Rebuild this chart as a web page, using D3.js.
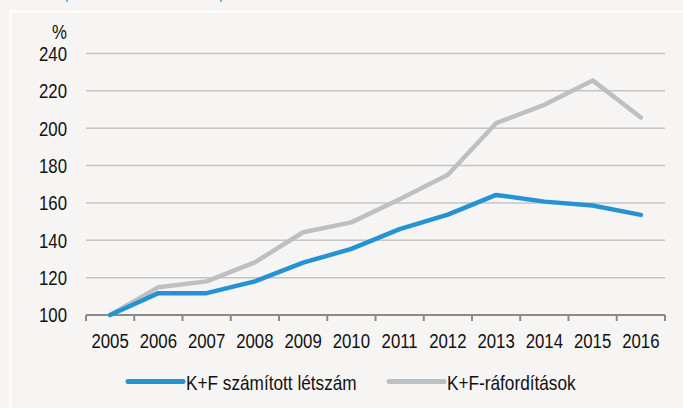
<!DOCTYPE html>
<html>
<head>
<meta charset="utf-8">
<script src="https://cdn.jsdelivr.net/npm/d3@7"></script>
<style>
  html, body { margin: 0; padding: 0; background: #f6f5f3; }
  svg { display: block; }
  text { font-family: "Liberation Sans", Arial, sans-serif; fill: #111; }
</style>
</head>
<body>
<div id="chart"></div>
<script>
(function () {
"use strict";

// Data (index, 2005 = 100)
var years = ["2005", "2006", "2007", "2008", "2009", "2010", "2011", "2012", "2013", "2014", "2015", "2016"];
var headcount = [100, 111.7, 111.7, 118, 128, 135.4, 146, 153.7, 164.3, 160.7, 158.6, 153.6];
var spending = [100, 114.9, 118, 128.2, 144.3, 149.6, 162, 175.1, 202.7, 212.5, 225.6, 205.7];
var yTicks = [100, 120, 140, 160, 180, 200, 220, 240];
var seriesNames = ["K+F számított létszám", "K+F-ráfordítások"];
var seriesColors = ["#2592d4", "#bdc0c3"];

var fullWidth = 683,
    fullHeight = 408;

// no narrow font installed: squeeze Liberation Sans horizontally
var narrow = 0.82;
function place(x, y) {
  return "translate(" + x + "," + y + ") scale(" + narrow + ",1)";
}

var svg = d3.select("#chart").append("svg")
  .attr("width", fullWidth)
  .attr("height", fullHeight)
  .attr("viewBox", "0 0 " + fullWidth + " " + fullHeight);

svg.append("rect")
  .attr("width", fullWidth)
  .attr("height", fullHeight)
  .style("fill", "#f6f5f3");

// bits of the cut-off title above the frame
svg.append("g")
  .selectAll("rect")
  .data([66, 220])
  .enter()
    .append("rect")
      .attr("x", function(d) { return d; })
      .attr("y", 0)
      .attr("width", 2)
      .attr("height", 2)
      .style("fill", "#6fb4e3");

// white frame
svg.append("rect")
  .attr("x", 10.5)
  .attr("y", 11.5)
  .attr("width", fullWidth + 20)
  .attr("height", fullHeight + 20)
  .style("fill", "none")
  .style("stroke", "#ffffff")
  .style("stroke-width", 2);

var plot = { left: 86, right: 665, top: 53.5, bottom: 315 };

var xScale = d3.scaleBand()
  .domain(years)
  .range([plot.left, plot.right]);

var yScale = d3.scaleLinear()
  .domain([100, 240])
  .range([plot.bottom, plot.top]);

function xMid(d) { return xScale(d) + xScale.bandwidth() / 2; }

// gridlines
svg.append("g")
  .selectAll("line")
  .data(yTicks.filter(function(d) { return d > 100; }))
  .enter()
    .append("line")
      .attr("x1", plot.left)
      .attr("x2", plot.right)
      .attr("y1", function(d) { return yScale(d); })
      .attr("y2", function(d) { return yScale(d); })
      .style("stroke", "#c4c4c4")
      .style("stroke-width", 1.5);

// y labels
svg.append("g")
  .selectAll("text")
  .data(yTicks)
  .enter()
    .append("text")
      .attr("transform", function(d) { return place(67, yScale(d)); })
      .attr("dy", "0.36em")
      .style("text-anchor", "end")
      .style("font-size", "20.5px")
      .text(function(d) { return d; });

svg.append("text")
  .attr("transform", place(67, 39))
  .style("text-anchor", "end")
  .style("font-size", "20.5px")
  .text("%");

// x axis
var xAxis = svg.append("g");
xAxis.append("line")
  .attr("x1", plot.left)
  .attr("x2", plot.right)
  .attr("y1", plot.bottom)
  .attr("y2", plot.bottom)
  .style("stroke", "#8a8a8a")
  .style("stroke-width", 2);

xAxis.selectAll(".tick")
  .data(years.concat(["end"]))
  .enter()
    .append("line")
      .attr("class", "tick")
      .attr("x1", function(d, i) { return i < years.length ? xScale(d) : plot.right; })
      .attr("x2", function(d, i) { return i < years.length ? xScale(d) : plot.right; })
      .attr("y1", plot.bottom)
      .attr("y2", plot.bottom + 6)
      .style("stroke", "#8a8a8a")
      .style("stroke-width", 2);

xAxis.selectAll(".label")
  .data(years)
  .enter()
    .append("text")
      .attr("class", "label")
      .attr("transform", function(d) { return place(xMid(d), 348); })
      .style("text-anchor", "middle")
      .style("font-size", "20.5px")
      .text(function(d) { return d; });

// lines
var line = d3.line()
  .x(function(d, i) { return xMid(years[i]); })
  .y(function(d) { return yScale(d); });

[spending, headcount].forEach(function(s, k) {
  svg.append("path")
    .datum(s)
    .attr("d", line)
    .style("fill", "none")
    .style("stroke", seriesColors[1 - k])
    .style("stroke-width", 4.5)
    .style("stroke-linejoin", "round")
    .style("stroke-linecap", "round");
});

// legend
var legendX = [128, 389];
var legend = svg.append("g")
  .selectAll("g")
  .data(seriesNames)
  .enter()
    .append("g")
      .attr("transform", function(d, i) { return "translate(" + legendX[i] + ",0)"; });

legend.append("line")
  .attr("x1", 0)
  .attr("x2", 55)
  .attr("y1", 381.5)
  .attr("y2", 381.5)
  .style("stroke", function(d, i) { return seriesColors[i]; })
  .style("stroke-width", 5)
  .style("stroke-linecap", "round");

legend.append("text")
  .attr("transform", place(58, 390))
  .style("font-size", "21px")
  .text(function(d) { return d; });

})();
</script>
</body>
</html>
